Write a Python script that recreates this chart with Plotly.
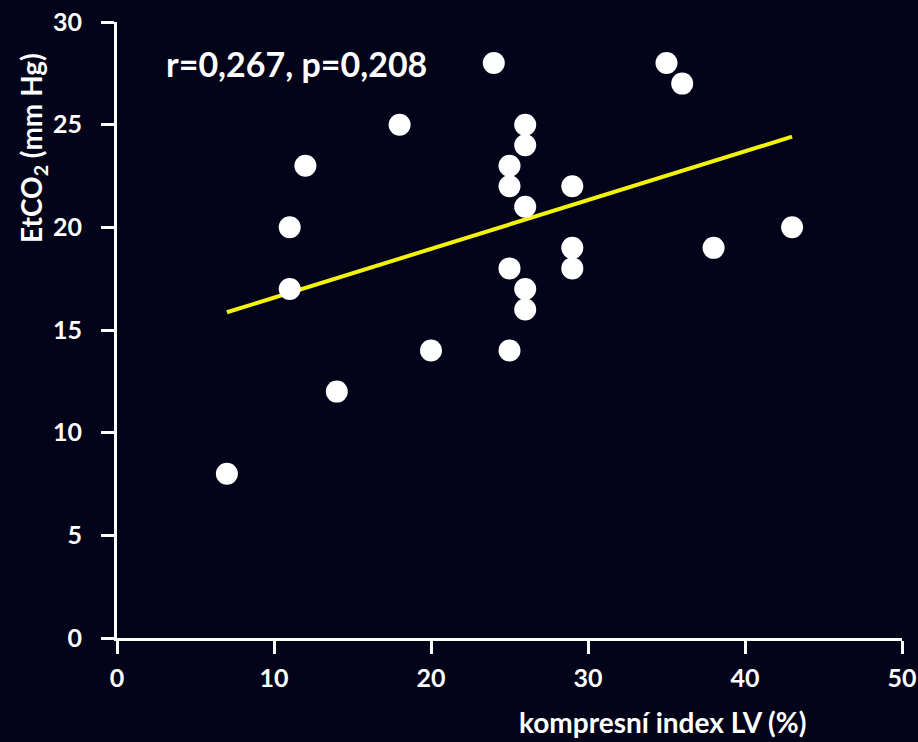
import numpy as np
import plotly.graph_objects as go

# Compression index of the left ventricle (%) vs. end-tidal CO2 (mm Hg)
kompresni_index = [7, 11, 11, 12, 14, 18, 20, 24, 25, 25, 25, 25,
                   26, 26, 26, 26, 26, 29, 29, 29, 35, 36, 38, 43]
etco2 = [8, 20, 17, 23, 12, 25, 14, 28, 23, 22, 18, 14,
         25, 24, 21, 17, 16, 22, 19, 18, 28, 27, 19, 20]

x_ticks = [0, 10, 20, 30, 40, 50]
y_ticks = [0, 5, 10, 15, 20, 25, 30]
stat_label = "r=0,267, p=0,208"

BG = "#03031a"
FONT = "Lato"

# Least-squares trend line over the observed x span
slope, intercept = np.polyfit(kompresni_index, etco2, 1)
fit_x = np.array([min(kompresni_index), max(kompresni_index)])
fit_y = slope * fit_x + intercept

fig = go.Figure()
fig.add_trace(go.Scatter(
    x=fit_x, y=fit_y, mode="lines",
    line=dict(color="#f2f20a", width=4),
    hoverinfo="skip",
))
fig.add_trace(go.Scatter(
    x=kompresni_index, y=etco2, mode="markers",
    marker=dict(color="white", size=22, line=dict(width=0)),
))

axis_common = dict(
    showgrid=False, zeroline=False, automargin=False,
    showline=True, linecolor="#ffffff", linewidth=3,
    tickmode="array",
    ticks="outside", ticklen=13, tickwidth=3, tickcolor="#ffffff",
    tickfont=dict(family=FONT, size=25, color="#ffffff", weight="bold"),
)

fig.update_xaxes(range=[0, 50], tickvals=x_ticks, ticklabelstandoff=3,
                 **axis_common)
fig.update_yaxes(range=[0, 30], tickvals=y_ticks, ticklabelstandoff=14,
                 **axis_common)

# pixel-positioned titles expressed in paper coordinates
W, H = 918, 742
L, R, T, B = 117, 16, 22, 104
pw, ph = W - L - R, H - T - B

fig.add_annotation(
    x=3, y=28, xref="x", yref="y", text=stat_label, showarrow=False,
    xanchor="left", yanchor="middle",
    font=dict(family=FONT, size=34, color="#ffffff", weight="bold"),
)
fig.add_annotation(
    x=(808 - L) / pw, y=-(722 - (H - B)) / ph, xref="paper", yref="paper",
    text="kompresní index LV (%)", showarrow=False,
    xanchor="right", yanchor="middle",
    font=dict(family=FONT, size=28, color="#ffffff", weight="bold"),
)
fig.add_annotation(
    x=-(L - 33) / pw, y=((H - B) - 148) / ph, xref="paper", yref="paper",
    text="EtCO<sub>2</sub> (mm Hg)", showarrow=False,
    textangle=-90, xanchor="center", yanchor="middle",
    font=dict(family=FONT, size=28, color="#ffffff", weight="bold"),
)

fig.update_layout(
    width=W, height=H,
    margin=dict(l=L, r=R, t=T, b=B, autoexpand=False),
    paper_bgcolor=BG, plot_bgcolor=BG,
    showlegend=False,
    font=dict(family=FONT, color="#ffffff"),
)

fig.write_html("out.html")
